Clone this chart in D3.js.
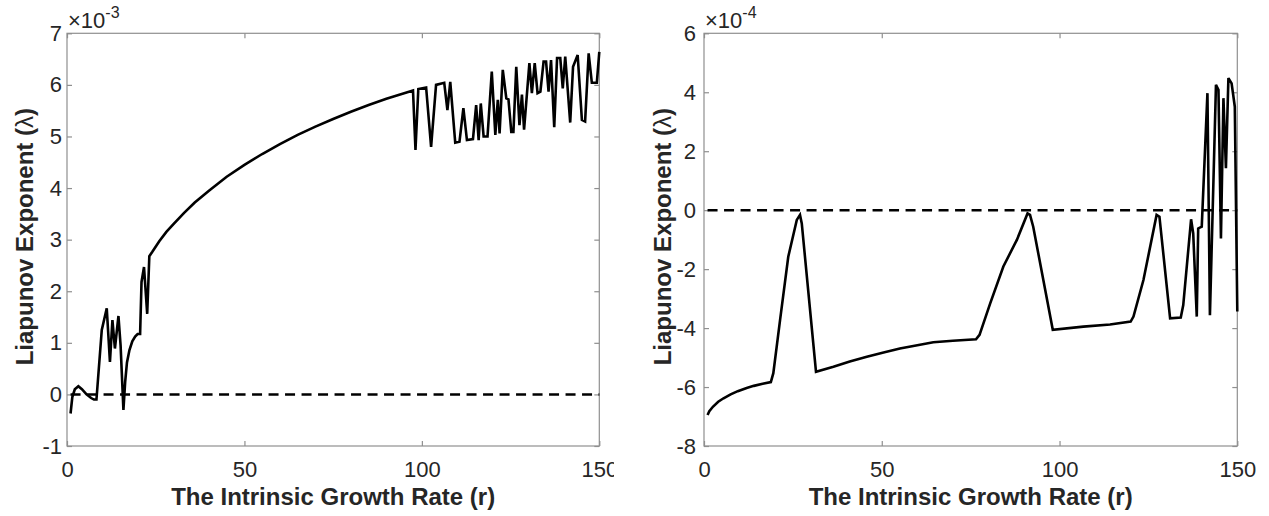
<!DOCTYPE html>
<html>
<head>
<meta charset="utf-8">
<script src="https://cdn.jsdelivr.net/npm/d3@7"></script>
<style>
  html, body { margin: 0; padding: 0; background: #fff; }
  svg { display: block; }
  text { font-family: "Liberation Sans", Arial, Helvetica, sans-serif; }
</style>
</head>
<body>
<svg id="chart" width="1269" height="516"></svg>
<script>
// ---------------- data ----------------
// Left panel: values in units of 1e-3
const leftR = [1.0, 1.5, 2.2, 3.2, 4.2, 5.5, 6.8, 7.6, 8.3, 9.8, 11.2, 12.1, 12.8, 13.5, 14.5, 15.1, 15.9,
  16.4, 16.9, 17.6, 18.4, 19.2, 19.9, 20.6, 21.0, 21.7, 22.6, 23.2,
  24, 26, 28, 30, 33, 36, 40, 45, 50, 55, 60, 65, 70, 75, 80, 85, 90, 95, 97.5,
  98.2, 99.0, 101.2, 102.6, 104.0, 106.3, 107.2, 108.0, 109.4, 110.6, 111.7, 112.7, 114.4, 115.3, 116.0,
  116.6, 117.4, 118.5, 119.7, 120.7, 121.4, 121.9, 122.8, 123.8, 124.4, 125.2, 125.8, 126.6, 127.5, 128.2,
  128.8, 130.3, 131.0, 131.8, 132.6, 133.4, 134.3, 135.0, 135.7, 136.4, 137.3, 138.1, 139.0, 139.7, 140.4,
  141.8, 142.6, 143.9, 145.1, 146.0, 147.0, 147.9, 149.3, 150];
const leftLambda = [-0.37, -0.05, 0.10, 0.16, 0.10, 0.0, -0.07, -0.10, -0.10, 1.25, 1.67, 0.63, 1.44, 0.89, 1.52, 0.95, -0.30,
  0.25, 0.62, 0.86, 1.03, 1.12, 1.17, 1.17, 2.18, 2.47, 1.56, 2.68,
  2.76, 2.97, 3.15, 3.30, 3.52, 3.72, 3.95, 4.22, 4.45, 4.66, 4.85, 5.03, 5.19, 5.34, 5.48, 5.61, 5.73, 5.84, 5.89,
  4.74, 5.92, 5.95, 4.80, 6.00, 6.04, 5.51, 6.06, 4.88, 4.90, 5.55, 4.93, 4.95, 5.61, 4.93,
  5.64, 5.00, 5.00, 6.26, 5.03, 5.71, 5.06, 6.29, 5.74, 5.72, 5.09, 5.09, 6.35, 5.22, 5.81,
  5.13, 6.42, 5.84, 6.42, 5.84, 5.87, 6.45, 6.45, 5.87, 6.48, 5.18, 6.52, 6.52, 5.93, 6.55,
  5.27, 6.35, 6.58, 5.32, 5.29, 6.61, 6.04, 6.04, 6.64];

// Right panel: values in units of 1e-4
const rightR = [1.0, 1.5, 2.5, 4, 5.5, 7.5, 9.5, 12, 14, 16.5, 18.8, 19.5, 21.4, 23.7, 26.1, 27.0, 27.5,
  31.5, 36.4, 41, 45.8, 50.5, 55.1, 60, 64.5, 70, 76.5, 77.5, 80.5, 84.2, 88.0, 91.0, 91.7, 92.6,
  98.1, 106.7, 114.2, 120.0, 120.8, 123.6, 127.3, 128.1, 131.1, 134.1, 134.8, 137.0, 137.6, 138.6,
  139.0, 140.0, 141.6, 142.3, 144.0, 144.7, 145.4, 146.1, 146.8, 147.5, 148.4, 149.3, 150];
const rightLambda = [-6.95, -6.82, -6.67, -6.50, -6.38, -6.25, -6.14, -6.03, -5.96, -5.89, -5.83, -5.53, -3.72, -1.58, -0.33, -0.16, -0.45,
  -5.48, -5.31, -5.13, -4.97, -4.83, -4.69, -4.58, -4.48, -4.43, -4.38, -4.23, -3.16, -1.91, -1.01, -0.11, -0.16, -0.56,
  -4.06, -3.95, -3.88, -3.78, -3.61, -2.37, -0.16, -0.22, -3.67, -3.64, -3.22, -0.31, -0.79, -3.61,
  -0.62, -0.56, 3.97, -3.56, 4.25, 4.08, -0.96, 3.80, 1.42, 4.48, 4.30, 3.51, -3.44];

// Zero reference line
const zeroR = [1, 150];
const zeroLambda = [0, 0];

// Ticks and labels
const xTicks = [0, 50, 100, 150];
const leftYTicks = [-1, 0, 1, 2, 3, 4, 5, 6, 7];
const rightYTicks = [-8, -6, -4, -2, 0, 2, 4, 6];
const leftExponent = "-3";
const rightExponent = "-4";
const xLabel = "The Intrinsic Growth Rate (r)";
const yLabelMain = "Liapunov Exponent (";
const yLabelSym = "\u03BB";

// ---------------- drawing ----------------
const svg = d3.select("#chart");
const axisColor = "#8f8f8f";
const textColor = "#262626";
const fmt = d => String(d);

svg.append("defs").append("clipPath").attr("id", "leftClip")
  .append("rect").attr("x", 0).attr("y", 0).attr("width", 614).attr("height", 516);

function panel(g, cfg) {
  const x = d3.scaleLinear().domain([0, 150]).range([cfg.left, cfg.right]);
  const y = d3.scaleLinear().domain(cfg.yDomain).range([446, 33.3]);

  // box
  g.append("rect")
    .attr("x", cfg.left).attr("y", 33.3)
    .attr("width", cfg.right - cfg.left).attr("height", 446 - 33.3)
    .attr("fill", "none").attr("stroke", axisColor).attr("stroke-width", 1.2);

  const styleAxis = sel => {
    sel.select(".domain").remove();
    sel.selectAll(".tick line").attr("stroke", axisColor).attr("stroke-width", 1.2);
    sel.selectAll("text").attr("fill", textColor).style("font-size", "22px")
      .style("font-family", '"Liberation Sans", Arial, Helvetica, sans-serif');
  };

  g.append("g").attr("transform", `translate(0,446)`)
    .call(d3.axisBottom(x).tickValues(xTicks).tickSize(-5).tickSizeOuter(0).tickPadding(15).tickFormat(fmt))
    .call(styleAxis);
  g.append("g").attr("transform", `translate(0,33.3)`)
    .call(d3.axisTop(x).tickValues(xTicks).tickSize(-5).tickSizeOuter(0).tickFormat(""))
    .call(styleAxis);
  g.append("g").attr("transform", `translate(${cfg.left},0)`)
    .call(d3.axisLeft(y).tickValues(cfg.yTicks).tickSize(-5).tickSizeOuter(0).tickPadding(cfg.yPad).tickFormat(fmt))
    .call(styleAxis);
  g.append("g").attr("transform", `translate(${cfg.right},0)`)
    .call(d3.axisRight(y).tickValues(cfg.yTicks).tickSize(-5).tickSizeOuter(0).tickFormat(""))
    .call(styleAxis);

  // exponent label
  const ex = g.append("text").attr("x", cfg.left + 1).attr("y", 28)
    .attr("fill", textColor).style("font-size", "22px");
  ex.append("tspan").text("\u00D710");
  ex.append("tspan").attr("dy", -10).style("font-size", "16px").text(cfg.exponent);

  // zero dashed line
  const line = d3.line().x(d => x(d[0])).y(d => y(d[1]));
  g.append("path")
    .datum(d3.zip(zeroR, zeroLambda))
    .attr("d", line).attr("fill", "none").attr("stroke", "#000")
    .attr("stroke-width", 2.5).attr("stroke-dasharray", "10,6.5");

  // series
  g.append("path")
    .datum(d3.zip(cfg.r, cfg.v))
    .attr("d", line).attr("fill", "none").attr("stroke", "#000")
    .attr("stroke-width", 2.6).attr("stroke-linejoin", "miter").attr("stroke-miterlimit", 3);

  // axis labels
  g.append("text")
    .attr("x", (cfg.left + cfg.right) / 2).attr("y", 505)
    .attr("text-anchor", "middle").attr("fill", textColor)
    .style("font-size", "24px").style("font-weight", "bold")
    .text(xLabel);

  const yl = g.append("text")
    .attr("transform", `translate(${cfg.yLabelX},${(33.3 + 446) / 2 - 3}) rotate(-90)`)
    .attr("text-anchor", "middle").attr("fill", textColor)
    .style("font-size", "24px").style("font-weight", "bold");
  yl.append("tspan").text(yLabelMain);
  yl.append("tspan").style("font-weight", "normal").text(yLabelSym);
  yl.append("tspan").text(")");
}

panel(svg.append("g").attr("clip-path", "url(#leftClip)"), {
  left: 67, right: 599.3, yDomain: [-1, 7], yTicks: leftYTicks, yPad: 5,
  exponent: leftExponent, r: leftR, v: leftLambda, yLabelX: 33
});
panel(svg.append("g"), {
  left: 704, right: 1237.3, yDomain: [-8, 6], yTicks: rightYTicks, yPad: 8,
  exponent: rightExponent, r: rightR, v: rightLambda, yLabelX: 671
});
</script>
</body>
</html>
